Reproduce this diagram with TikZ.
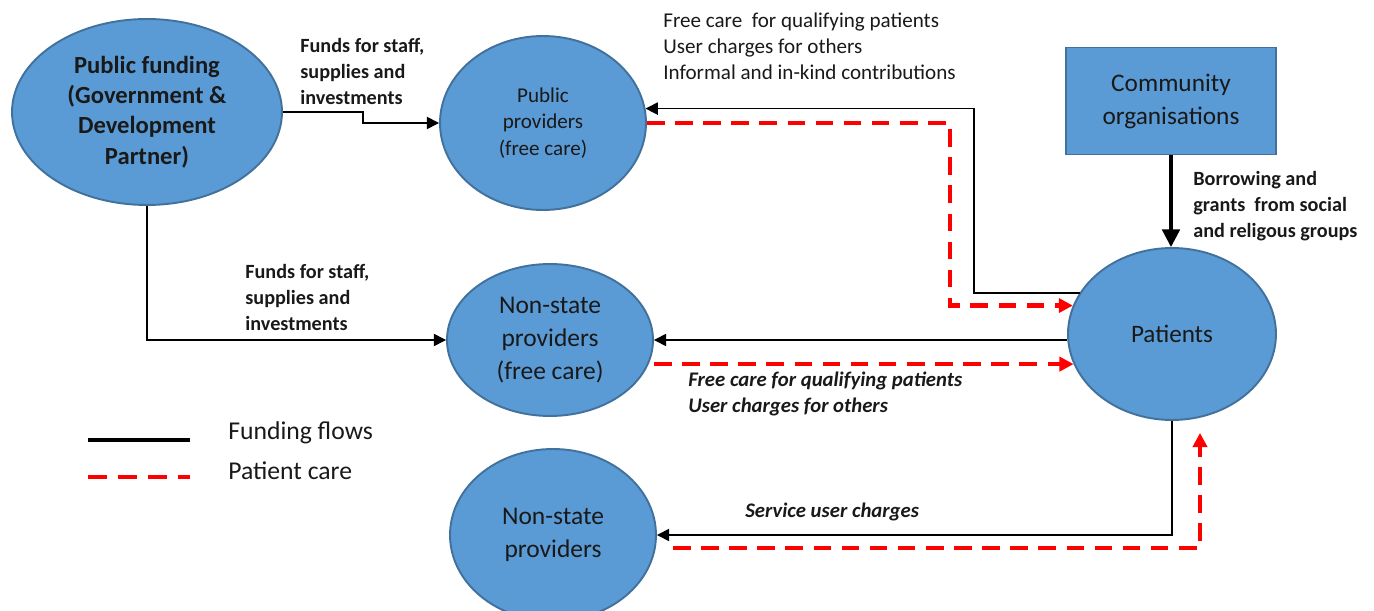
\documentclass[tikz,border=0pt]{standalone}
\usepackage{fontspec}
\setmainfont{Carlito}
\usetikzlibrary{shapes.geometric,arrows.meta}

\definecolor{nodeblue}{HTML}{5B9BD5}
\definecolor{nodeedge}{HTML}{41719C}
\definecolor{careline}{HTML}{FF0000}

\begin{document}
\begin{tikzpicture}[x=0.02cm,y=-0.02cm,
        blob/.style={ellipse,draw=nodeedge,line width=1.1pt,fill=nodeblue,inner sep=0pt,align=center,text=black!90},
        orgbox/.style={rectangle,draw=nodeedge,line width=1.1pt,fill=nodeblue,inner sep=0pt,align=center,text=black!90,minimum width=4.2cm,minimum height=2.14cm},
        fund/.style={line width=0.8pt,-{Triangle[length=7pt,width=7pt]}},
        care/.style={careline,line width=2.4pt,dash pattern=on 10pt off 6pt,-{Triangle[length=8pt,width=8pt]}},
        lbl/.style={anchor=west,align=left,inner sep=0pt,text=black!90,font=\fontsize{12}{14.8}\selectfont},
        blbl/.style={lbl,font=\bfseries\fontsize{11.5}{14.8}\selectfont},
        ilbl/.style={lbl,font=\bfseries\itshape\fontsize{11.8}{15.3}\selectfont}]
    \useasboundingbox (0,0) rectangle (1374,611);

    % sources and providers
    \node[blob,minimum width=5.4cm,minimum height=3.72cm,font=\bfseries\fontsize{14}{17.2}\selectfont] (pf) at (147,112) {Public funding\\(Government \&\\Development\\Partner)};
    \node[blob,minimum width=4.12cm,minimum height=3.48cm,font=\fontsize{12}{15}\selectfont] (pp) at (543,123) {Public\\providers\\(free care)};
    \node[blob,minimum width=4.12cm,minimum height=3.04cm,font=\fontsize{14.5}{18.8}\selectfont] (nsf) at (550,340) {Non-state\\providers\\(free care)};
    \node[blob,minimum width=4.12cm,minimum height=3.44cm,font=\fontsize{14.5}{18.8}\selectfont] (nsp) at (553,535) {Non-state\\providers};
    \node[blob,minimum width=4.16cm,minimum height=3.44cm,font=\fontsize{14.3}{18.8}\selectfont] (pat) at (1172,334) {Patients};
    \node[orgbox,font=\fontsize{14.4}{18.8}\selectfont] (com) at (1171,101) {Community\\organisations};

    % funding flows
    \draw[fund] (pf.east) -- ++(80,0) |- (pp.west);
    \draw[fund] (pf.south) |- (nsf.west);
    \draw[fund] (pat.156) -| (974,0 |- pp.8) -- (pp.8);
    \draw[fund] (pat.west |- nsf.east) -- (nsf.east);
    \draw[fund] (pat.south) |- (nsp.east);
    \draw[line width=1.8pt,-{Triangle[length=10pt,width=10pt]}] (com.south) -- (com.south |- pat.north);

    % patient care
    \draw[care] (pp.east) -| (950,0 |- pat.164) -- (pat.164);
    \draw[care] (nsf.east |- pat.197) -- (pat.197);
    \draw[care] ([shift={(16,13)}]nsp.east) -| ([shift={(28,12)}]pat.south);

    % labels
    \node[blbl] (fpp) at (300,71) {Funds for staff,\\supplies and\\investments};
    \node[blbl] (fnsf) at (245,297) {Funds for staff,\\supplies and\\investments};
    \node[lbl] (ppcare) at (663,46) {Free care\ \ for qualifying patients\\User charges for others\\Informal and in-kind contributions};
    \node[ilbl] (nsfcare) at (688,394) {Free care for qualifying patients\\User charges for others};
    \node[ilbl] (nspcare) at (745,512) {Service user charges};
    \node[blbl] (comflow) at (1193,206) {Borrowing and\\grants\ \ from social\\and religous groups};

    % legend
    \draw[line width=2.6pt] (88,440) -- (190,440);
    \draw[careline,line width=2.6pt,dash pattern=on 11pt off 6pt] (88,477) -- (190,477);
    \node[lbl,font=\fontsize{14.6}{18.8}\selectfont] (lgfund) at (228,433) {Funding flows};
    \node[lbl,font=\fontsize{14.6}{18.8}\selectfont] (lgcare) at (228,471) {Patient care};
\end{tikzpicture}
\end{document}
